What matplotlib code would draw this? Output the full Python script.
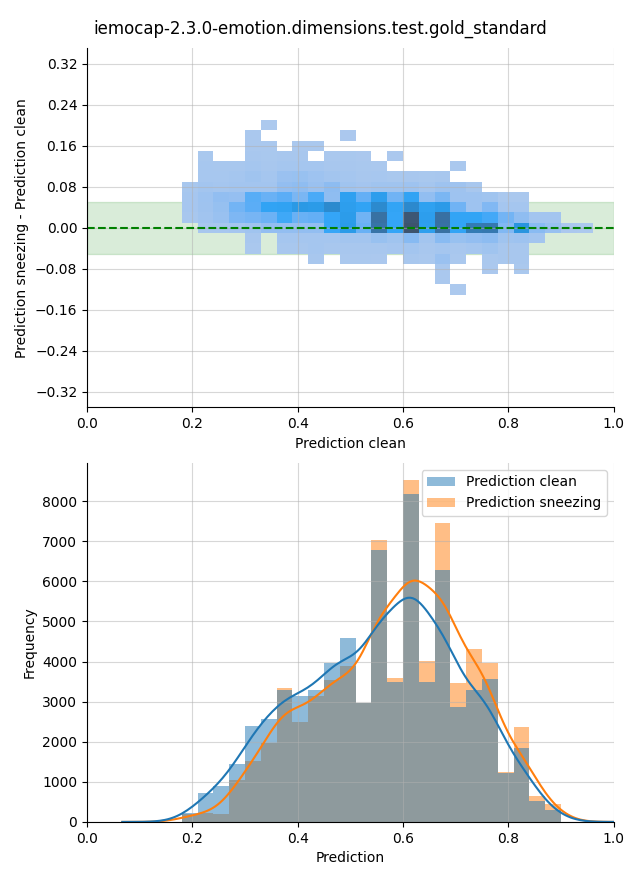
import numpy as np
import matplotlib
matplotlib.use("Agg")
import matplotlib.pyplot as plt
from matplotlib.patches import Patch
import seaborn as sns

title = "iemocap-2.3.0-emotion.dimensions.test.gold_standard"

# histogram bins (width 0.03) for the predictions
pred_edges = np.round(np.arange(0.18, 0.9001, 0.03), 2)
clean_counts = [230, 725, 905, 1450, 2400, 2575, 3300, 3150, 3300, 3975, 4575, 2975,
                6775, 3480, 8175, 3480, 6280, 2875, 3300, 3570, 1225, 1850, 525, 300]
sneezing_counts = [190, 230, 200, 1050, 1530, 1980, 3350, 2500, 3130, 3550, 3900, 2960,
                   7025, 3590, 8525, 4020, 7450, 3470, 4320, 3975, 1250, 2370, 650, 450]

# 2d histogram: clean prediction (x) vs. sneezing - clean (y)
heat_x_edges = np.round(np.arange(0.18, 0.9601, 0.03), 2)
heat_y_edges = np.round(np.arange(-0.13, 0.2101, 0.02), 2)
# rows from top (diff 0.20) to bottom (diff -0.12), one value per x bin
diff_counts = [
    [0, 0, 0, 0, 0, 10, 0, 0, 0, 0, 0, 0, 0, 0, 0, 0, 0, 0, 0, 0, 0, 0, 0, 0, 0, 0],
    [0, 0, 0, 0, 25, 0, 0, 0, 0, 0, 20, 0, 0, 0, 0, 0, 0, 0, 0, 0, 0, 0, 0, 0, 0, 0],
    [0, 0, 0, 0, 25, 25, 0, 25, 25, 0, 0, 0, 0, 0, 0, 0, 0, 0, 0, 0, 0, 0, 0, 0, 0, 0],
    [0, 40, 0, 0, 50, 40, 50, 50, 0, 25, 40, 20, 0, 20, 0, 0, 0, 0, 0, 0, 0, 0, 0, 0, 0, 0],
    [0, 55, 45, 50, 75, 50, 75, 75, 75, 50, 50, 40, 25, 0, 0, 0, 0, 25, 0, 0, 0, 0, 0, 0, 0, 0],
    [0, 60, 55, 75, 125, 75, 175, 200, 150, 100, 75, 50, 60, 40, 50, 40, 50, 0, 0, 0, 0, 0, 0, 0, 0, 0],
    [50, 100, 80, 100, 100, 100, 250, 275, 175, 300, 125, 90, 125, 130, 150, 75, 150, 140, 50, 0, 0, 0, 0, 0, 0, 0],
    [65, 150, 260, 225, 675, 575, 650, 450, 750, 275, 960, 600, 1025, 525, 900, 260, 450, 150, 150, 125, 25, 25, 0, 0, 0, 0],
    [65, 140, 220, 500, 650, 900, 925, 1125, 1075, 1425, 1000, 900, 1425, 875, 1450, 950, 1080, 525, 150, 400, 75, 75, 0, 0, 0, 0],
    [50, 120, 185, 425, 475, 550, 800, 575, 600, 850, 1050, 525, 1950, 850, 2525, 1000, 1975, 875, 875, 775, 500, 275, 100, 100, 0, 0],
    [0, 50, 60, 75, 125, 250, 250, 250, 250, 825, 1075, 575, 1900, 850, 2600, 975, 1950, 875, 1750, 1800, 400, 1200, 325, 200, 20, 10],
    [0, 0, 0, 0, 50, 0, 75, 75, 75, 75, 100, 100, 200, 125, 350, 100, 325, 200, 250, 300, 125, 150, 100, 0, 0, 0],
    [0, 0, 0, 0, 30, 0, 50, 50, 75, 50, 50, 50, 50, 65, 100, 50, 75, 50, 75, 125, 50, 50, 0, 0, 0, 0],
    [0, 0, 0, 0, 0, 0, 0, 0, 50, 0, 25, 25, 20, 0, 50, 30, 175, 25, 0, 25, 50, 50, 0, 0, 0, 0],
    [0, 0, 0, 0, 0, 0, 0, 0, 0, 0, 0, 0, 0, 0, 0, 0, 25, 0, 0, 20, 0, 25, 0, 0, 0, 0],
    [0, 0, 0, 0, 0, 0, 0, 0, 0, 0, 0, 0, 0, 0, 0, 0, 25, 0, 0, 0, 0, 0, 0, 0, 0, 0],
    [0, 0, 0, 0, 0, 0, 0, 0, 0, 0, 0, 0, 0, 0, 0, 0, 0, 10, 0, 0, 0, 0, 0, 0, 0, 0],
]


def centers(edges):
    return (edges[:-1] + edges[1:]) / 2


def plot_diff(ax):
    grid = np.array(diff_counts, dtype=float)[::-1]
    xx, yy = np.meshgrid(centers(heat_x_edges), centers(heat_y_edges))
    keep = grid > 0
    sns.histplot(x=xx[keep], y=yy[keep], weights=grid[keep],
                 bins=[heat_x_edges.tolist(), heat_y_edges.tolist()], ax=ax)
    ax.axhspan(-0.05, 0.05, color="green", alpha=0.15, zorder=0)
    ax.axhline(0, color="green", linestyle="--")
    ax.set_xlim(0, 1)
    ax.set_ylim(-0.35, 0.35)
    ax.set_yticks(np.round(np.arange(-0.32, 0.33, 0.08), 2))
    ax.set_xlabel("Prediction clean")
    ax.set_ylabel("Prediction sneezing - Prediction clean")
    ax.grid(alpha=0.5)


def plot_hist(ax):
    x = centers(pred_edges)
    bins = pred_edges.tolist()
    kde_kws = dict(bw_adjust=0.38, cut=3)
    # sneezing first, clean drawn on top (like seaborn's hue layering)
    sns.histplot(x=x, weights=sneezing_counts, bins=bins, kde=True, color="C1",
                 alpha=0.5, linewidth=0, kde_kws=kde_kws, ax=ax)
    sns.histplot(x=x, weights=clean_counts, bins=bins, kde=True, color="C0",
                 alpha=0.5, linewidth=0, kde_kws=kde_kws, ax=ax)
    ax.set_xlim(0, 1)
    ax.set_xlabel("Prediction")
    ax.set_ylabel("Frequency")
    ax.grid(alpha=0.5)
    handles = [Patch(facecolor="C0", alpha=0.5), Patch(facecolor="C1", alpha=0.5)]
    ax.legend(handles, ["Prediction clean", "Prediction sneezing"], loc="upper right")


def main():
    fig, (ax1, ax2) = plt.subplots(2, 1, figsize=(6.4, 8.8), dpi=100)
    fig.subplots_adjust(left=0.136, right=0.959, top=0.945, bottom=0.066, hspace=0.155)
    plot_diff(ax1)
    plot_hist(ax2)
    sns.despine(fig)
    fig.suptitle(title, fontsize=12, y=0.978)
    fig.savefig("out.png")


if __name__ == '__main__':
    main()
